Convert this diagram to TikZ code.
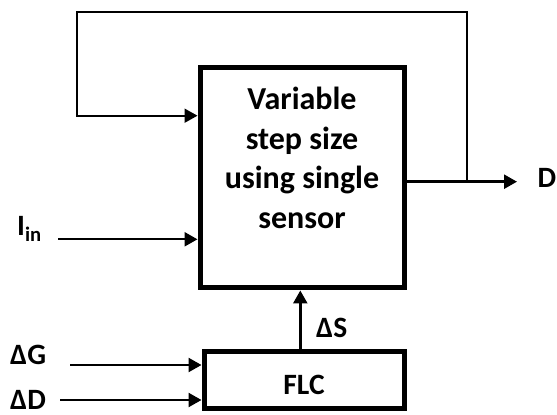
\documentclass[tikz,border=0pt]{standalone}
\usepackage{fontspec}
\setmainfont{Carlito}
\usetikzlibrary{positioning,arrows.meta}

\begin{document}
\begin{tikzpicture}[
x=1pt,y=1pt,
node distance=59pt,
block/.style={
draw,
line width=5pt,
inner sep=0pt
},
txt/.style={
font=\bfseries\fontsize{32}{39.6}\selectfont,
align=center,
inner sep=0pt
},
lbl/.style={
font=\bfseries\fontsize{29.5}{34}\selectfont,
inner sep=0pt,
anchor=base west
},
signal/.style={
-{Triangle[length=13pt,width=14pt]},
line width=2.4pt
},
feedback/.style={
-{Triangle[length=13pt,width=14pt]},
line width=1.8pt
}
]
\useasboundingbox (0,0) rectangle (557,415);

\node[block, minimum width=204pt, minimum height=220pt] (vss) at (302,237) {};
\node[txt] (vsstext) at ([yshift=20pt]vss.center)
{Variable\\step size\\using single\\sensor};

\node[block, lbl, anchor=north, minimum width=200pt, minimum height=57pt,
text height=29pt, below=of vss, xshift=2pt] (flc) {FLC};

% output and feedback
\coordinate (tap) at (466.7,233.3);
\coordinate (dout) at (517,233.3);
\coordinate (fbtop) at (77.3,403.3);
\node[lbl] (dlabel) at (537.5,227) {D};

\draw[signal] ([yshift=-3.7pt]vss.east) -- (dout);
\draw[feedback] (tap) |- (fbtop) |- ([yshift=62.3pt]vss.west);

% inputs
\coordinate (iin) at (58,175.7);
\node[lbl] (iinlabel) at (17,179.3) {I\textsubscript{in}};
\draw[signal] (iin) -- (iin -| vss.west);

\coordinate (dgin) at (70,50);
\coordinate (ddin) at (60,15);
\node[lbl] (dglabel) at (10,50) {ΔG};
\node[lbl] (ddlabel) at (10,5.5) {ΔD};
\draw[signal] (dgin) -- (dgin -| flc.west);
\draw[signal] (ddin) -- (ddin -| flc.west);

\draw[signal] ([xshift=-3.7pt]flc.north) -- ([xshift=-3.7pt]flc.north |- vss.south);
\node[lbl] (dslabel) at (316,77.7) {ΔS};

\end{tikzpicture}
\end{document}
